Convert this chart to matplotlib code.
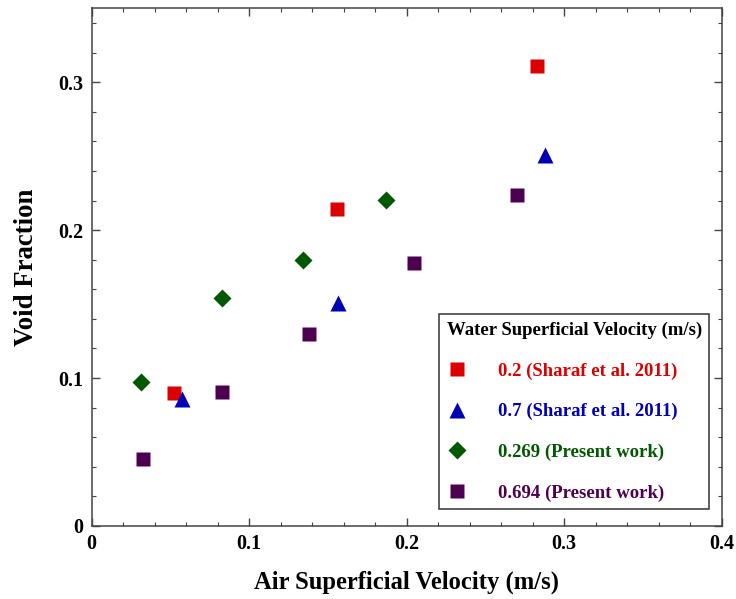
import matplotlib
matplotlib.use("Agg")
import matplotlib.pyplot as plt
from matplotlib.ticker import MultipleLocator

plt.rcParams['font.family'] = ['Liberation Serif', 'DejaVu Serif']
plt.rcParams['font.weight'] = 'bold'

# Air superficial velocity (m/s) vs. void fraction, per water velocity
red_x = [0.0524, 0.1556, 0.283]
red_y = [0.0897, 0.214, 0.311]

blue_x = [0.0571, 0.1565, 0.2876]
blue_y = [0.0858, 0.151, 0.2507]

green_x = [0.0315, 0.083, 0.1344, 0.1867]
green_y = [0.0975, 0.154, 0.1797, 0.2207]

purple_x = [0.0324, 0.0829, 0.1382, 0.2046, 0.2703]
purple_y = [0.0455, 0.0903, 0.1297, 0.178, 0.2236]

labels = ['0.2 (Sharaf et al. 2011)', '0.7 (Sharaf et al. 2011)',
          '0.269 (Present work)', '0.694 (Present work)']
colors = ['#dd0000', '#0000b4', '#005800', '#4e0050']

fig = plt.figure(figsize=(7.36, 5.99), dpi=100)
ax = fig.add_axes([0.1246, 0.1219, 0.856, 0.8642])

ax.plot(red_x, red_y, 's', ms=10.5, color=colors[0], mec='none', label=labels[0])
ax.plot(blue_x, blue_y, '^', ms=12, color=colors[1], mec='none', label=labels[1])
ax.plot(green_x, green_y, 'D', ms=9.2, color=colors[2], mec='none', label=labels[2])
ax.plot(purple_x, purple_y, 's', ms=10.5, color=colors[3], mec='none', label=labels[3])

ax.set_xlim(0, 0.4)
ax.set_ylim(0, 0.35)
ax.xaxis.set_major_locator(MultipleLocator(0.1))
ax.xaxis.set_minor_locator(MultipleLocator(0.02))
ax.yaxis.set_major_locator(MultipleLocator(0.1))
ax.yaxis.set_minor_locator(MultipleLocator(0.02))
ax.xaxis.set_major_formatter(lambda v, p: '0' if v == 0 else f'{v:g}')
ax.yaxis.set_major_formatter(lambda v, p: '0' if v == 0 else f'{v:g}')

ax.tick_params(which='both', direction='in', top=True, right=True,
               color='#444444', labelsize=14.5)
ax.tick_params(which='major', length=5.5, width=1.0, pad=6)
ax.tick_params(which='minor', length=3, width=0.8)
for s in ax.spines.values():
    s.set_color('#444444')
    s.set_linewidth(1.1)

ax.set_xlabel('Air Superficial Velocity (m/s)', fontsize=17.7, fontweight='bold', labelpad=12)
ax.set_ylabel('Void Fraction', fontsize=19.3, fontweight='bold', labelpad=14)

leg = ax.legend(loc='lower right', bbox_to_anchor=(0.9803, 0.0323), borderaxespad=0,
                title='Water Superficial Velocity (m/s)',
                title_fontproperties={'weight': 'bold', 'size': 13.5},
                prop={'weight': 'bold', 'size': 13.5}, labelcolor=colors,
                fancybox=False, edgecolor='#333333', framealpha=1,
                labelspacing=1.25, handlelength=1.1, handletextpad=1.65,
                borderpad=0.4, alignment='left', numpoints=1)
leg.get_frame().set_linewidth(1.1)

fig.savefig('out.png', dpi=100)
